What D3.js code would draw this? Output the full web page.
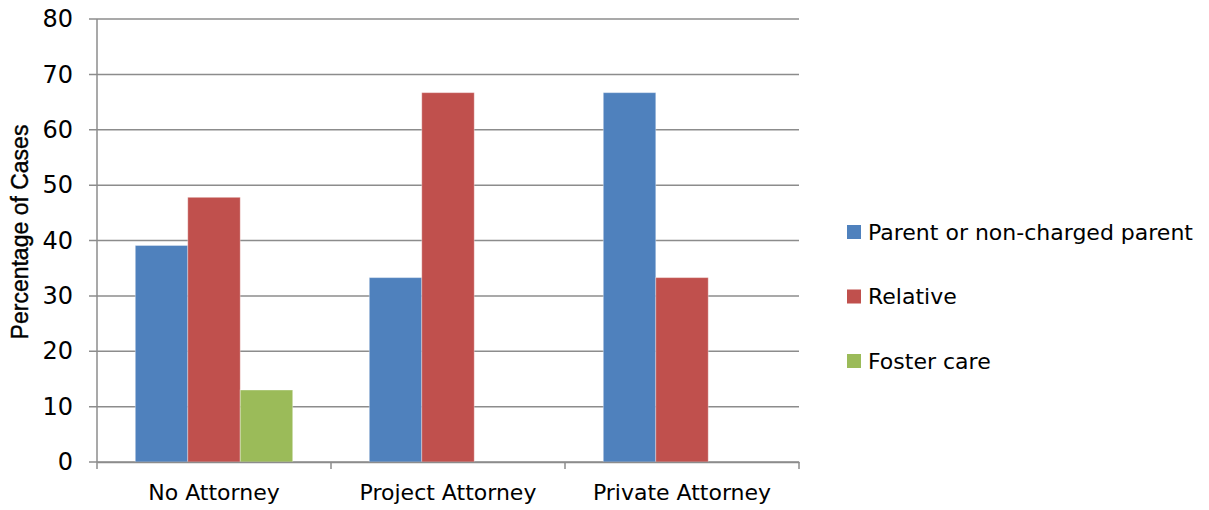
<!DOCTYPE html>
<html>
<head>
<meta charset="utf-8">
<script src="https://cdn.jsdelivr.net/npm/d3@7"></script>
<style>
  html, body { margin: 0; padding: 0; background: #fff; }
  svg { display: block; font-family: "DejaVu Sans", Verdana, sans-serif; }
</style>
</head>
<body>
<svg id="chart" width="1209" height="510"></svg>
<script>
// Placement outcome by type of representation
const categories = ["No Attorney", "Project Attorney", "Private Attorney"];
const seriesNames = ["Parent or non-charged parent", "Relative", "Foster care"];
const parentValues = [39.1, 33.3, 66.7];
const relativeValues = [47.8, 66.7, 33.3];
const fosterValues = [13.0, 0, 0];
const yTicks = [0, 10, 20, 30, 40, 50, 60, 70, 80];
const colors = ["#4F81BD", "#C0504D", "#9BBB59"];

const seriesValues = [parentValues, relativeValues, fosterValues];
const FONT = "'DejaVu Sans', Verdana, sans-serif";

const svg = d3.select("#chart");
const plot = { left: 97, right: 799, top: 19, bottom: 462 };

const x0 = d3.scaleBand().domain(categories).range([plot.left, plot.right]).paddingInner(0).paddingOuter(0);
const x1 = d3.scaleBand().domain(seriesNames).range([0, x0.bandwidth()]).paddingInner(0).paddingOuter(0.73);
const y = d3.scaleLinear().domain([0, 80]).range([plot.bottom, plot.top]);

// horizontal gridlines
svg.append("g").selectAll("line").data(yTicks).join("line")
  .attr("x1", plot.left - 8).attr("x2", plot.right)
  .attr("y1", d => y(d)).attr("y2", d => y(d))
  .attr("stroke", "#8c8c8c").attr("stroke-width", 1.5);

// y axis
const yAxis = d3.axisLeft(y).tickValues(yTicks).tickSize(8).tickPadding(16);
const gy = svg.append("g").attr("transform", `translate(${plot.left},0)`).call(yAxis);
gy.select(".domain").attr("stroke", "#8c8c8c").attr("stroke-width", 1.5).attr("d", `M0,${plot.top}V${plot.bottom}`);
gy.selectAll(".tick line").remove();
gy.selectAll(".tick text").attr("font-size", 24).attr("fill", "#000").attr("font-family", FONT);

// bars
const groups = svg.append("g").selectAll("g").data(categories).join("g")
  .attr("transform", d => `translate(${x0(d)},0)`);
groups.selectAll("rect")
  .data((c, i) => seriesNames.map((s, k) => ({ s, k, v: seriesValues[k][i] })).filter(d => d.v > 0))
  .join("rect")
  .attr("x", d => x1(d.s))
  .attr("width", x1.bandwidth())
  .attr("y", d => y(d.v))
  .attr("height", d => y(0) - y(d.v))
  .attr("fill", d => colors[d.k])
  .attr("stroke", "rgba(255,255,255,0.35)").attr("stroke-width", 1);

// x axis
const xAxis = d3.axisBottom(x0).tickSize(0).tickPadding(22);
const gx = svg.append("g").attr("transform", `translate(0,${plot.bottom})`).call(xAxis);
gx.select(".domain").attr("stroke", "#8c8c8c").attr("stroke-width", 1.5);
gx.selectAll(".tick text").attr("font-size", 22).attr("fill", "#000").attr("font-family", FONT);
// category boundary ticks
const bounds = categories.map(c => x0(c)).concat([plot.right]);
gx.append("g").selectAll("line").data(bounds).join("line")
  .attr("x1", d => d).attr("x2", d => d).attr("y1", 0).attr("y2", 7)
  .attr("stroke", "#8c8c8c").attr("stroke-width", 1.5);

// y axis title
svg.append("text")
  .attr("transform", `translate(28,232) rotate(-90)`)
  .attr("text-anchor", "middle")
  .attr("font-size", 23).attr("fill", "#000")
  .attr("stroke", "#000").attr("stroke-width", 0.4)
  .attr("font-family", "'Liberation Sans', Arial, sans-serif")
  .text("Percentage of Cases");

// legend
const legend = svg.append("g").selectAll("g").data(seriesNames).join("g")
  .attr("transform", (d, i) => `translate(847,${232 + i * 64.5})`);
legend.append("rect").attr("x", 0).attr("y", -7).attr("width", 14).attr("height", 14)
  .attr("fill", (d, i) => colors[i]);
legend.append("text").attr("x", 21).attr("y", 0).attr("dy", "0.36em")
  .attr("font-size", 22).attr("fill", "#000").attr("font-family", FONT).text(d => d);
</script>
</body>
</html>
